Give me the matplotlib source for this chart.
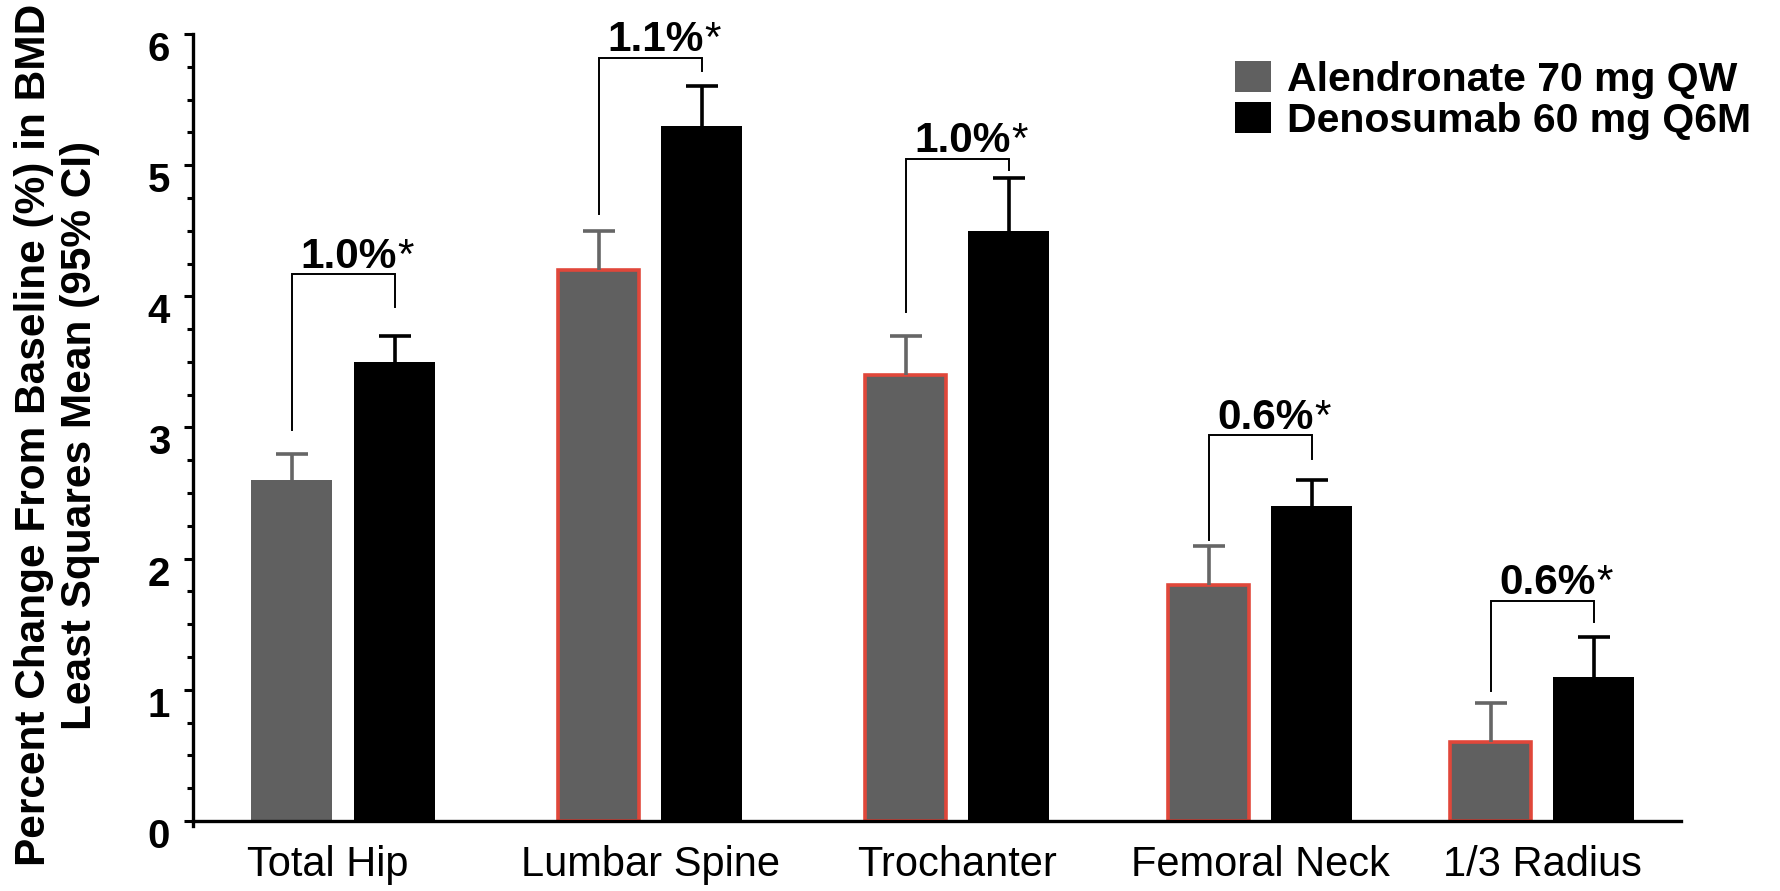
import matplotlib
matplotlib.use("Agg")
import matplotlib.pyplot as plt
from matplotlib.ticker import MultipleLocator
from matplotlib.transforms import ScaledTranslation
import numpy as np

plt.rcParams['font.family'] = ['Liberation Sans', 'DejaVu Sans']

# ---------------- data ----------------
categories = ["Total Hip", "Lumbar Spine", "Trochanter", "Femoral Neck", "1/3 Radius"]
series_names = ["Alendronate 70 mg QW", "Denosumab 60 mg Q6M"]
alendronate = [2.6, 4.2, 3.4, 1.8, 0.6]
alendronate_err = [0.2, 0.3, 0.3, 0.3, 0.3]     # upper 95% CI - mean
denosumab = [3.5, 5.3, 4.5, 2.4, 1.1]
denosumab_err = [0.2, 0.3, 0.4, 0.2, 0.3]
diff_labels = ["1.0%", "1.1%", "1.0%", "0.6%", "0.6%"]
bracket_top = [4.17, 5.82, 5.05, 2.94, 1.68]
bracket_left = [2.98, 4.63, 3.88, 2.14, 0.99]
bracket_right = [3.92, 5.72, 4.96, 2.76, 1.52]
y_label = "Percent Change From Baseline (%) in BMD\nLeast Squares Mean (95% CI)"

# ---------------- layout ----------------
group_x = np.array([0, 1, 2, 2.987, 3.906])
offset = 0.168
width = 0.265

GRAY = '#606060'
ERR_GRAY = '#666666'
RED = '#e0473a'

W, H = 1781, 891
fig = plt.figure(figsize=(W / 100, H / 100), dpi=100)
ymin = -0.04
ppu = (821 - 34) / 6
ax_bottom_px = 821 + (-ymin) * ppu
ax = fig.add_axes([193 / W, 1 - ax_bottom_px / H, (1681 - 193) / W, (ax_bottom_px - 34) / H])

xa = group_x - offset
xd = group_x + offset
edgecolors = ['none'] + [RED] * 4
lws = [0] + [2.6] * 4
ba = ax.bar(xa, alendronate, width, color=GRAY, edgecolor=edgecolors, linewidth=lws,
            label=series_names[0], zorder=2)
bd = ax.bar(xd, denosumab, width, color='black', label=series_names[1], zorder=2)

for x, y, e, c in [(xa, alendronate, alendronate_err, ERR_GRAY),
                   (xd, denosumab, denosumab_err, 'black')]:
    eb = ax.errorbar(x, y, yerr=[np.zeros(len(e)), e], fmt='none', ecolor=c,
                     elinewidth=2.6, capsize=11.5, capthick=2.6, zorder=3)
    for cl in eb[1]:
        if np.allclose(cl.get_ydata(), y):
            cl.set_visible(False)

for i in range(len(categories)):
    ax.plot([xa[i], xa[i], xd[i], xd[i]],
            [bracket_left[i], bracket_top[i], bracket_top[i], bracket_right[i]],
            color='black', lw=1.4, solid_joinstyle='miter', zorder=3)
    cx = (xa[i] + xd[i]) / 2
    t = ax.annotate(diff_labels[i], xy=(cx, bracket_top[i]), xytext=(4, 4.5),
                    textcoords='offset points', ha='center', va='baseline',
                    fontsize=30.5, fontweight='bold')
    ax.annotate('*', xy=(1, 1), xycoords=t, xytext=(0.5, 0), textcoords='offset points',
                ha='left', va='top', fontsize=30.5)

ax.set_xlim(-0.489, 4.358)
ax.set_ylim(ymin, 6)
ax.spines['top'].set_visible(False)
ax.spines['right'].set_visible(False)
ax.spines['bottom'].set_position(('data', 0))
for s in ['left', 'bottom']:
    ax.spines[s].set_linewidth(2.4)
ax.yaxis.set_major_locator(MultipleLocator(1))
ax.yaxis.set_minor_locator(MultipleLocator(0.25))
ax.tick_params(axis='y', which='major', length=6.5, width=2.2, direction='out',
               labelsize=29, pad=10)
ax.tick_params(axis='y', which='minor', length=4.3, width=2.2, direction='out')
ax.set_xticks(group_x, categories)
ax.tick_params(axis='x', length=0, labelsize=30, pad=17)
off = ScaledTranslation(0, -12 / 100, fig.dpi_scale_trans)
for lab in ax.get_yticklabels():
    lab.set_fontweight('bold')
    lab.set_transform(lab.get_transform() + off)
first_xlab = ax.get_xticklabels()[0]
first_xlab.set_transform(first_xlab.get_transform()
                         + ScaledTranslation(-15 / 100, 0, fig.dpi_scale_trans))

ax.set_ylabel(y_label, fontsize=30.5, fontweight='bold', va='center', ha='center',
              linespacing=1.2)
ax.yaxis.set_label_coords(-0.0914, (ax_bottom_px - 435) / (ax_bottom_px - 34))

ax.legend(handles=[ba, bd], labels=series_names, loc='upper left',
          bbox_to_anchor=(1235 / W, 1 - 61 / H), bbox_transform=fig.transFigure,
          frameon=False, prop={'size': 29.5, 'weight': 'bold'},
          handlelength=0.87, handleheight=0.8, handletextpad=0.4,
          labelspacing=0.07, borderpad=0, borderaxespad=0)

fig.savefig("out.png", dpi=100)
